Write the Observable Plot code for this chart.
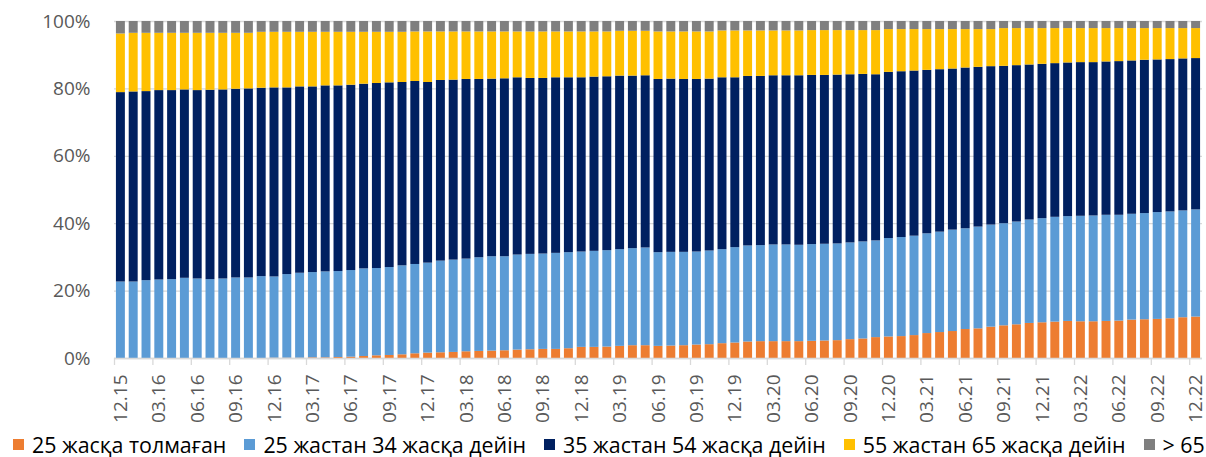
<!DOCTYPE html>
<html>
<head>
<meta charset="utf-8">
<script src="https://cdn.jsdelivr.net/npm/d3@7"></script>
<script src="https://cdn.jsdelivr.net/npm/@observablehq/plot@0.6"></script>
<style>
  html, body { margin: 0; padding: 0; background: #fff; }
  #chart { width: 1206px; }
  .legend { display: flex; align-items: center; height: 25px; padding-left: 13px; box-sizing: border-box;
    font-family: "Open Sans", sans-serif; font-size: 21.4px; line-height: 25px; color: #000; white-space: nowrap; }
  .legend .item { display: flex; align-items: center; flex-shrink: 0; margin-right: 18px; }
  .legend .sw { width: 11px; height: 11px; margin-right: 8px; display: inline-block; flex-shrink: 0; }
</style>
</head>
<body>
<div id="chart"></div>
<script>
const dates = [
  "12.15",
  "01.16","02.16","03.16","04.16","05.16","06.16","07.16","08.16","09.16","10.16","11.16","12.16",
  "01.17","02.17","03.17","04.17","05.17","06.17","07.17","08.17","09.17","10.17","11.17","12.17",
  "01.18","02.18","03.18","04.18","05.18","06.18","07.18","08.18","09.18","10.18","11.18","12.18",
  "01.19","02.19","03.19","04.19","05.19","06.19","07.19","08.19","09.19","10.19","11.19","12.19",
  "01.20","02.20","03.20","04.20","05.20","06.20","07.20","08.20","09.20","10.20","11.20","12.20",
  "01.21","02.21","03.21","04.21","05.21","06.21","07.21","08.21","09.21","10.21","11.21","12.21",
  "01.22","02.22","03.22","04.22","05.22","06.22","07.22","08.22","09.22","10.22","11.22","12.22"
];
const tickLabels = ["12.15","03.16","06.16","09.16","12.16","03.17","06.17","09.17","12.17","03.18","06.18","09.18",
  "12.18","03.19","06.19","09.19","12.19","03.20","06.20","09.20","12.20","03.21","06.21","09.21","12.21","03.22","06.22","09.22","12.22"];
const yTicks = [0, 20, 40, 60, 80, 100];

const seriesNames = ["25 жасқа толмаған", "25 жастан 34 жасқа дейін", "35 жастан 54 жасқа дейін", "55 жастан 65 жасқа дейін", "> 65"];
const seriesColors = ["#ED7D31", "#5B9BD5", "#002060", "#FFC000", "#7F7F7F"];

const under25 = [
  0,0,0,0,0,0,0,0,0,0,0,0,
  0.1,0.1,0.1,0.2,0.2,0.3,0.4,0.6,0.8,0.9,1.1,
  1.4,1.6,1.7,1.8,2.0,2.1,2.2,2.3,2.5,2.6,2.7,2.7,2.9,3.3,3.3,3.4,3.6,3.8,3.8,3.6,3.7,3.8,4.0,4.1,4.4,4.6,4.9,5.0,5.0,5.0,5.0,
  5.1,5.2,5.3,5.6,5.8,6.2,6.4,6.5,6.8,7.4,7.7,8.0,8.6,8.8,9.3,9.7,10.0,10.4,10.6,10.8,11.0,10.9,10.9,11.0,11.1,11.4,11.5,11.6,11.8,12.1,12.3
];
const age25to34 = [
  22.7,22.7,23.1,23.3,23.4,23.8,23.6,23.4,23.6,23.9,23.9,24.3,24.1,24.8,25.2,25.3,25.5,25.5,25.7,26.0,25.9,26.1,26.4,
  26.5,26.7,27.2,27.4,27.5,27.8,28.0,27.9,28.2,28.3,28.3,28.5,28.5,28.3,28.5,28.6,28.7,28.8,29.0,27.8,27.8,27.7,27.6,27.8,27.9,28.3,28.5,28.5,28.7,28.7,28.6,
  28.7,28.7,28.7,28.7,28.8,28.7,29.2,29.4,29.5,29.6,29.8,30.1,29.9,30.2,30.3,30.3,30.5,30.7,30.9,31.1,31.1,31.3,31.4,31.5,31.4,31.4,31.5,31.7,31.7,31.7,31.8
];
const age35to54 = [
  56.2,56.4,56.1,56.2,56.1,55.9,55.9,56.2,56.1,56.0,56.1,55.9,56.1,55.4,55.3,55.1,55.2,55.1,55.0,54.8,54.9,54.8,54.4,
  54.3,53.6,53.6,53.4,53.3,52.9,52.7,52.8,52.6,52.2,52.1,52.1,51.9,51.7,51.7,51.6,51.5,51.2,51.1,51.4,51.4,51.3,51.2,51.0,51.0,50.4,50.3,50.2,50.2,50.2,50.3,
  50.2,50.1,50.1,49.9,49.7,49.3,49.3,49.2,49.0,48.5,48.2,47.8,47.7,47.4,47.0,46.7,46.4,46.0,45.8,45.6,45.6,45.6,45.5,45.5,45.6,45.5,45.5,45.3,45.2,45.1,44.9
];
const age55to65 = [
  17.4,17.4,17.3,17.0,17.0,16.8,17.0,16.9,16.8,16.6,16.5,16.6,16.5,16.5,16.2,16.2,15.9,15.9,15.7,15.4,15.2,15.0,14.9,
  14.7,15.0,14.4,14.3,14.1,14.1,14.0,13.9,13.6,13.8,13.8,13.6,13.6,13.6,13.4,13.3,13.3,13.3,13.2,14.1,14.0,14.1,14.1,14.0,13.9,13.9,13.5,13.5,13.3,13.3,13.3,
  13.3,13.3,13.2,13.1,13.0,13.1,12.7,12.5,12.3,12.1,11.9,11.7,11.4,11.2,11.0,11.2,11.0,10.8,10.6,10.4,10.2,10.1,10.1,9.9,9.8,9.6,9.4,9.3,9.2,9.0,8.9
];
const over65 = [
  3.7,
  3.5,3.5,3.5,3.5,3.5,3.5,3.5,3.5,3.5,3.5,
  3.2,3.2,3.2,3.2,3.2,3.2,3.2,3.2,3.2,3.2,3.2,3.2,
  3.1,3.1,3.1,3.1,3.1,3.1,3.1,3.1,3.1,3.1,3.1,3.1,3.1,3.1,3.1,3.1,
  2.9,2.9,2.9,
  3.1,3.1,3.1,3.1,3.1,
  2.8,2.8,2.8,2.8,2.8,2.8,2.8,
  2.7,2.7,2.7,2.7,2.7,2.7,
  2.4,2.4,2.4,2.4,2.4,2.4,2.4,2.4,2.4,
  2.1,2.1,2.1,2.1,2.1,2.1,2.1,2.1,2.1,2.1,2.1,2.1,2.1,2.1,2.1,2.1
];

const seriesValues = [under25, age25to34, age35to54, age55to65, over65];
const rows = [];
seriesValues.forEach((vals, s) => {
  vals.forEach((v, i) => rows.push({date: dates[i], series: seriesNames[s], value: v}));
});

const W = 1206, H = 432, ML = 114, MR = 4, MT = 21, MB = 74;
const step = (W - ML - MR) / dates.length;

const chart = Plot.plot({
  width: W, height: H,
  marginLeft: ML, marginRight: MR, marginTop: MT, marginBottom: MB,
  style: {fontFamily: "'Open Sans', sans-serif", fontSize: "19px", color: "#595959", background: "#fff", overflow: "visible"},
  x: {type: "band", domain: dates, paddingInner: 0.3, paddingOuter: 0.15},
  y: {domain: [0, 100]},
  color: {domain: seriesNames, range: seriesColors},
  marks: [
    Plot.ruleY(yTicks, {stroke: "#D9D9D9", strokeWidth: 1.3}),
    Plot.barY(rows, {x: "date", y: "value", fill: "series"}),
    Plot.ruleY([0], {stroke: "#D9D9D9", strokeWidth: 1.3}),
    Plot.axisY({ticks: yTicks, tickFormat: d => d + "%", tickSize: 0, tickPadding: 24, fill: "#595959", label: null}),
    Plot.axisX({ticks: tickLabels, tickSize: 0, tickPadding: 16, tickRotate: -90, fill: "#595959", label: null}),
    Plot.axisX({ticks: tickLabels, tickFormat: null, tickSize: 7, dx: -step / 2, stroke: "#D9D9D9", strokeWidth: 1.3, label: null})
  ]
});
document.getElementById("chart").appendChild(chart);

const legend = document.createElement("div");
legend.className = "legend";
seriesNames.forEach((name, i) => {
  const item = document.createElement("span");
  item.className = "item";
  const sw = document.createElement("span");
  sw.className = "sw";
  sw.style.background = seriesColors[i];
  const label = document.createElement("span");
  label.textContent = name;
  item.appendChild(sw);
  item.appendChild(label);
  legend.appendChild(item);
});
document.getElementById("chart").appendChild(legend);
</script>
</body>
</html>
